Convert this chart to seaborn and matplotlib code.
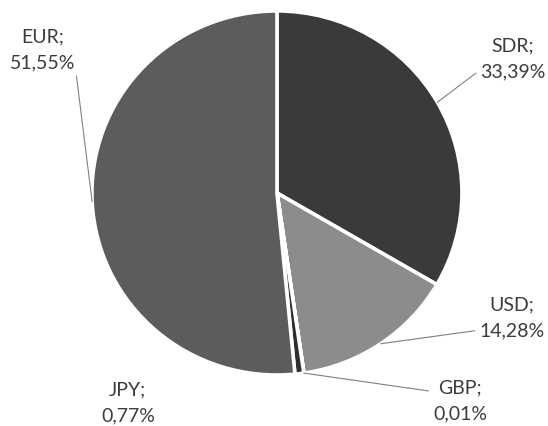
import numpy as np
import seaborn as sns
import matplotlib.pyplot as plt

currencies = ["SDR", "USD", "GBP", "JPY", "EUR"]
shares = [33.39, 14.28, 0.01, 0.77, 51.55]
share_labels = ["33,39%", "14,28%", "0,01%", "0,77%", "51,55%"]
colors = ["#3a3a3c", "#8c8c8e", "#222224", "#2e2e30", "#5c5c5e"]

# label anchor points (axes data units, pie radius = 1)
label_pos = [(1.276, 0.736), (1.27, -0.687), (0.989, -1.143), (-0.806, -1.154), (-1.265, 0.786)]
# where the leader line leaves the text box (None = no leader)
leader_rel = [(0.0, 0.25), (0.0, 0.22), (0.0, 0.72), None, (1.0, 0.05)]

sns.set_theme(style="white")
plt.rcParams['font.family'] = ['Lato', 'DejaVu Sans']

fig = plt.figure(figsize=(5.48, 4.26), dpi=100)
ax = fig.add_axes([0, 0, 1, 1])

wedges, _ = ax.pie(shares, colors=colors, startangle=90, counterclock=False,
                   wedgeprops=dict(edgecolor="white", linewidth=2.6))

for w, cur, lab, pos, rel in zip(wedges, currencies, share_labels, label_pos, leader_rel):
    mid = np.deg2rad((w.theta1 + w.theta2) / 2)
    edge = (np.cos(mid), np.sin(mid))
    arrow = None
    if rel is not None:
        arrow = dict(arrowstyle="-", color="#808080", lw=0.8, relpos=rel,
                     shrinkA=1, shrinkB=0)
    ax.annotate(f"{cur};\n{lab}", xy=edge, xytext=pos, ha="center", va="center",
                fontsize=14, color="#3c3c3c", linespacing=1.65, arrowprops=arrow)

ax.set_xlim(-1.497, 1.465)
ax.set_ylim(-1.280, 1.060)
ax.set_aspect("auto")
ax.axis("off")

fig.savefig("out.png", dpi=100, facecolor="white")
